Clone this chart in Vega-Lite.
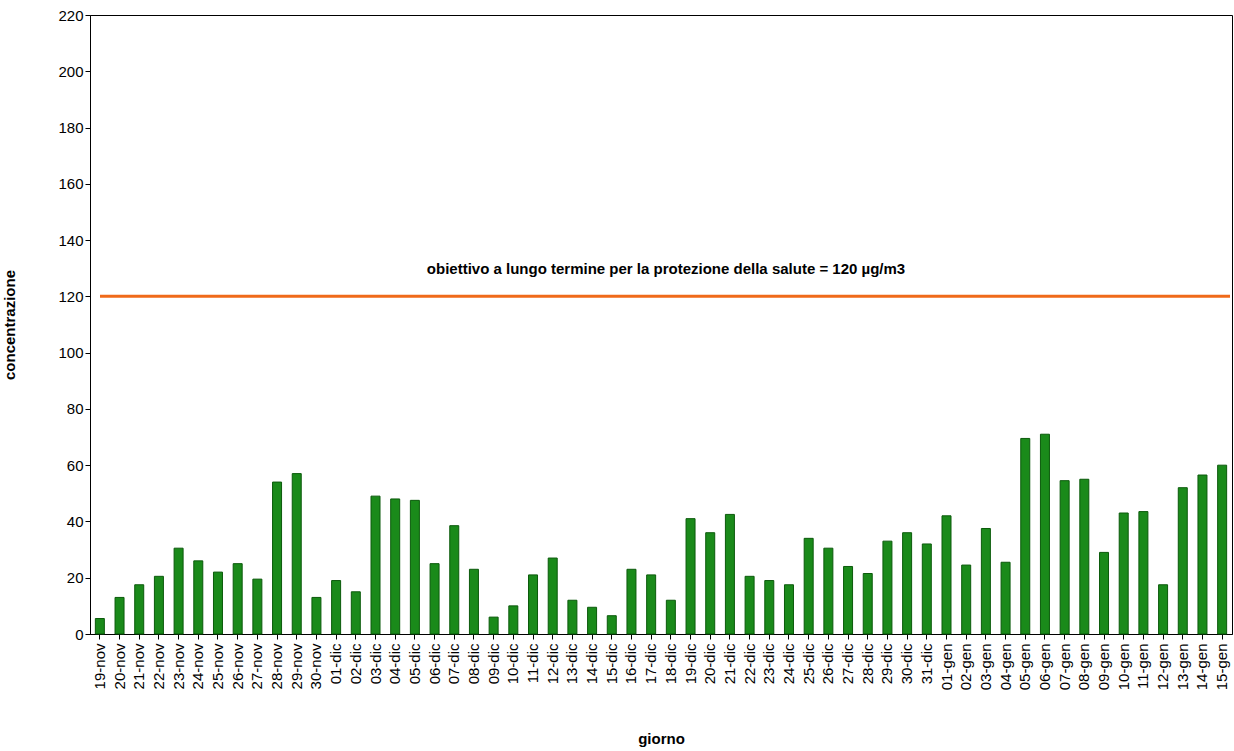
{
  "$schema": "https://vega.github.io/schema/vega-lite/v6.json",
  "width": 1142,
  "height": 619,
  "padding": {"left": 2, "top": 8, "right": 2, "bottom": 5},
  "background": "white",
  "config": {
    "font": "Liberation Sans",
    "view": {"stroke": "black", "strokeWidth": 1},
    "axis": {"grid": false, "domainColor": "black", "tickColor": "black", "labelColor": "black", "labelFontSize": 15, "titleFontSize": 15, "titleFontWeight": "bold", "titleColor": "black"}
  },
  "datasets": {
    "days": [
      {"giorno": "19-nov", "v": 5.5}, {"giorno": "20-nov", "v": 13}, {"giorno": "21-nov", "v": 17.5},
      {"giorno": "22-nov", "v": 20.5}, {"giorno": "23-nov", "v": 30.5}, {"giorno": "24-nov", "v": 26},
      {"giorno": "25-nov", "v": 22}, {"giorno": "26-nov", "v": 25}, {"giorno": "27-nov", "v": 19.5},
      {"giorno": "28-nov", "v": 54}, {"giorno": "29-nov", "v": 57}, {"giorno": "30-nov", "v": 13},
      {"giorno": "01-dic", "v": 19}, {"giorno": "02-dic", "v": 15}, {"giorno": "03-dic", "v": 49},
      {"giorno": "04-dic", "v": 48}, {"giorno": "05-dic", "v": 47.5}, {"giorno": "06-dic", "v": 25},
      {"giorno": "07-dic", "v": 38.5}, {"giorno": "08-dic", "v": 23}, {"giorno": "09-dic", "v": 6},
      {"giorno": "10-dic", "v": 10}, {"giorno": "11-dic", "v": 21}, {"giorno": "12-dic", "v": 27},
      {"giorno": "13-dic", "v": 12}, {"giorno": "14-dic", "v": 9.5}, {"giorno": "15-dic", "v": 6.5},
      {"giorno": "16-dic", "v": 23}, {"giorno": "17-dic", "v": 21}, {"giorno": "18-dic", "v": 12},
      {"giorno": "19-dic", "v": 41}, {"giorno": "20-dic", "v": 36}, {"giorno": "21-dic", "v": 42.5},
      {"giorno": "22-dic", "v": 20.5}, {"giorno": "23-dic", "v": 19}, {"giorno": "24-dic", "v": 17.5},
      {"giorno": "25-dic", "v": 34}, {"giorno": "26-dic", "v": 30.5}, {"giorno": "27-dic", "v": 24},
      {"giorno": "28-dic", "v": 21.5}, {"giorno": "29-dic", "v": 33}, {"giorno": "30-dic", "v": 36},
      {"giorno": "31-dic", "v": 32}, {"giorno": "01-gen", "v": 42}, {"giorno": "02-gen", "v": 24.5},
      {"giorno": "03-gen", "v": 37.5}, {"giorno": "04-gen", "v": 25.5}, {"giorno": "05-gen", "v": 69.5},
      {"giorno": "06-gen", "v": 71}, {"giorno": "07-gen", "v": 54.5}, {"giorno": "08-gen", "v": 55},
      {"giorno": "09-gen", "v": 29}, {"giorno": "10-gen", "v": 43}, {"giorno": "11-gen", "v": 43.5},
      {"giorno": "12-gen", "v": 17.5}, {"giorno": "13-gen", "v": 52}, {"giorno": "14-gen", "v": 56.5},
      {"giorno": "15-gen", "v": 60}
    ],
    "limit": [{"v": 120, "label": "obiettivo a lungo termine per la protezione della salute = 120 µg/m3"}]
  },
  "layer": [
    {
      "data": {"name": "days"},
      "mark": {"type": "bar", "color": "#1A8A1A", "stroke": "#0B5A0B", "strokeWidth": 1, "width": 9},
      "encoding": {
        "x": {"field": "giorno", "type": "ordinal", "sort": null, "title": "giorno",
              "scale": {"paddingInner": 0.5, "paddingOuter": 0.25},
              "axis": {"labelAngle": -90, "labelPadding": 4, "titlePadding": 42, "ticks": true}},
        "y": {"field": "v", "type": "quantitative", "title": "concentrazione",
              "scale": {"domain": [0, 220], "nice": false},
              "axis": {"values": [0,20,40,60,80,100,120,140,160,180,200,220], "titlePadding": 40}}
      }
    },
    {
      "data": {"name": "limit"},
      "mark": {"type": "rule", "color": "#F06A1A", "strokeWidth": 3},
      "encoding": {"y": {"field": "v", "type": "quantitative"}, "x": {"value": 10}, "x2": {"value": 1140}}
    },
    {
      "data": {"name": "limit"},
      "mark": {"type": "text", "fontSize": 15, "fontWeight": "bold", "dy": -27, "color": "black"},
      "encoding": {"y": {"field": "v", "type": "quantitative"}, "x": {"value": 576}, "text": {"field": "label"}}
    }
  ]
}
